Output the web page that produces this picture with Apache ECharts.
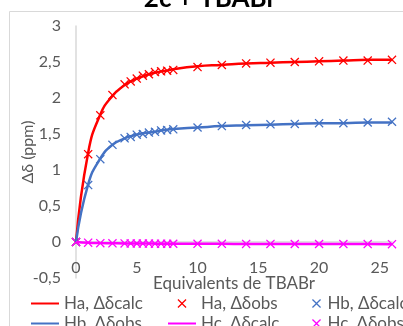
<!DOCTYPE html>
<html>
<head>
<meta charset="utf-8">
<script src="https://cdn.jsdelivr.net/npm/echarts@6/dist/echarts.min.js"></script>
<style>html,body{margin:0;padding:0;background:#fff}#c{width:403px;height:326px}</style>
</head>
<body>
<div id="c"></div>
<script>
const titleText = '2c + TBABr';
const xName = 'Equivalents de TBABr';
const yName = 'Δδ (ppm)';
const xValues = [0, 1, 2, 3, 4, 4.5, 5, 5.5, 6, 6.5, 7, 7.5, 8, 10, 12, 14, 16, 18, 20, 22, 24, 26];
const haCalc = [0, 1.24, 1.77, 2.03, 2.18, 2.23, 2.27, 2.30, 2.33, 2.35, 2.37, 2.38, 2.40, 2.44, 2.46, 2.48, 2.49, 2.50, 2.51, 2.52, 2.53, 2.53];
const haObs  = [0, 1.22, 1.76, 2.04, 2.19, 2.23, 2.27, 2.31, 2.33, 2.36, 2.37, 2.38, 2.39, 2.43, 2.46, 2.48, 2.49, 2.50, 2.51, 2.52, 2.52, 2.53];
const hbMarks = [0, 0.79, 1.15, 1.35, 1.44, 1.46, 1.49, 1.50, 1.52, 1.53, 1.55, 1.555, 1.565, 1.59, 1.61, 1.625, 1.635, 1.64, 1.65, 1.65, 1.66, 1.67];
const hbLine  = [0, 0.80, 1.16, 1.35, 1.44, 1.47, 1.49, 1.51, 1.52, 1.53, 1.55, 1.56, 1.57, 1.59, 1.61, 1.62, 1.63, 1.64, 1.65, 1.65, 1.66, 1.66];
const hcCalc = [0, -0.01, -0.015, -0.018, -0.02, -0.02, -0.021, -0.022, -0.022, -0.023, -0.023, -0.024, -0.024, -0.025, -0.026, -0.027, -0.027, -0.028, -0.028, -0.029, -0.029, -0.03];
const hcObs  = [0, -0.01, -0.016, -0.018, -0.02, -0.02, -0.021, -0.022, -0.022, -0.023, -0.023, -0.024, -0.024, -0.025, -0.026, -0.027, -0.027, -0.028, -0.028, -0.029, -0.029, -0.03];
const seriesNames = ['Ha, Δδcalc', 'Ha, Δδobs', 'Hb, Δδcalc', 'Hb, Δδobs', 'Hc, Δδcalc', 'Hc, Δδobs'];
const yMin = -0.5, yMax = 3, xMin = 0, xMax = 26;

const pair = arr => xValues.map((x, i) => [x, arr[i]]);
const X = 'path://M1,0 L5,4 L9,0 L10,1 L6,5 L10,9 L9,10 L5,6 L1,10 L0,9 L4,5 L0,1 Z';
const FONT = 'Lato';
const GREY = '#595959';
const lineNames = [seriesNames[0], seriesNames[3], seriesNames[4]];
const H = 326, gridTop = 26, gridBottom = 48;
// place the x axis where y = 0 (axis crosses at zero, like the original)
const xAxisOffset = -((0 - yMin) / (yMax - yMin)) * (H - gridTop - gridBottom);

const lineS = (name, data, color) => ({
  name, type: 'line', data: pair(data), smooth: true, symbol: 'none',
  lineStyle: { color, width: 2.5 }, itemStyle: { color }
});
const markS = (name, data, color) => ({
  name, type: 'scatter', data: pair(data), symbol: X, symbolSize: 9, symbolKeepAspect: true,
  itemStyle: { color, opacity: 1 }
});
const legendCol = (left, names, w) => ({
  orient: 'vertical', left, top: 290, height: 80, itemGap: 3, itemWidth: w, itemHeight: 9,
  data: names.map(n => lineNames.includes(n) ? { name: n, itemStyle: { opacity: 0 } } : { name: n }),
  textStyle: { fontFamily: FONT, fontSize: 17, color: GREY },
  selectedMode: false
});

const chart = echarts.init(document.getElementById('c'));
chart.setOption({
  animation: false,
  textStyle: { fontFamily: FONT },
  graphic: [
    { type: 'rect', shape: { x: 9.5, y: 11.5, width: 500, height: 400 }, style: { fill: 'none', stroke: '#d9d9d9', lineWidth: 1 }, z: -1 },
    { type: 'text', x: 210, y: 12, style: { text: titleText, fontFamily: FONT, fontSize: 26, fontWeight: 'bold', fill: '#000', align: 'center', verticalAlign: 'bottom' } }
  ],
  legend: [
    legendCol(25, [seriesNames[0], seriesNames[3]], 28),
    legendCol(162, [seriesNames[1], seriesNames[4]], 28),
    legendCol(307, [seriesNames[2], seriesNames[5]], 12)
  ],
  grid: { left: 76, right: 11, top: gridTop, bottom: gridBottom, containLabel: false, outerBoundsMode: 'none' },
  xAxis: {
    type: 'value', min: xMin, max: xMax, interval: 5, offset: xAxisOffset,
    name: xName, nameLocation: 'middle', nameGap: 33, nameMoveOverlap: false,
    nameTextStyle: { fontFamily: FONT, fontSize: 17, color: GREY },
    axisLine: { show: true, onZero: false, lineStyle: { color: '#d9d9d9', width: 1.5 } },
    axisTick: { show: false },
    axisLabel: { showMaxLabel: false, fontFamily: FONT, fontSize: 16, color: GREY, margin: 18 },
    splitLine: { show: false }
  },
  yAxis: {
    type: 'value', min: yMin, max: yMax, interval: 0.5,
    name: yName, nameLocation: 'middle', nameGap: 40, nameMoveOverlap: false,
    nameTextStyle: { fontFamily: FONT, fontSize: 16, color: GREY },
    axisLine: { show: true, onZero: false, lineStyle: { color: '#d9d9d9', width: 1.5 } },
    axisTick: { show: false },
    axisLabel: { fontFamily: FONT, fontSize: 16, color: GREY, margin: 15, formatter: v => String(v).replace('.', ',') },
    splitLine: { show: false }
  },
  series: [
    lineS(seriesNames[0], haCalc, '#ff0000'),
    markS(seriesNames[1], haObs, '#ff0000'),
    markS(seriesNames[2], hbMarks, '#4472c4'),
    lineS(seriesNames[3], hbLine, '#4472c4'),
    lineS(seriesNames[4], hcCalc, '#ff00ff'),
    markS(seriesNames[5], hcObs, '#ff00ff')
  ]
});
</script>
</body>
</html>
